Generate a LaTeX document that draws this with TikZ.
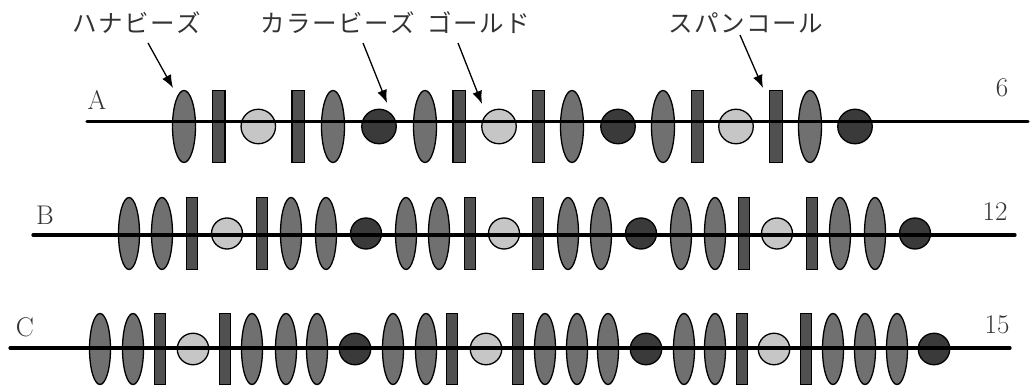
\documentclass[tikz,border=0pt]{standalone}
\usepackage{fontspec}
\newfontfamily\jp{Noto Sans CJK JP}
\usetikzlibrary{shapes.geometric,arrows.meta}
\definecolor{hanac}{HTML}{707070}
\definecolor{spanc}{HTML}{505050}
\definecolor{goldc}{HTML}{C6C6C6}
\definecolor{colc}{HTML}{3A3A3A}
\definecolor{txtc}{HTML}{333333}
\def\ew{23pt}\def\rw{12pt}\def\cw{34pt}\def\bh{72pt}
\newcommand\ks{\kern1.5pt}
\tikzset{
  bead/.style={draw=black, line width=1.3pt, inner sep=0pt, outer sep=0pt},
  hana/.style={bead, ellipse, fill=hanac, minimum width=\ew, minimum height=\bh},
  spang/.style={bead, rectangle, fill=spanc, minimum width=\rw, minimum height=\bh},
  gold/.style={bead, circle, fill=goldc, minimum size=\cw},
  colb/.style={bead, circle, fill=colc, minimum size=\cw},
  wire/.style={line width=3.2pt, line cap=round},
  ptr/.style={line width=1.3pt, -{Latex[length=13pt,width=10pt]}},
  jplbl/.style={inner sep=0pt, text=txtc, font=\fontsize{24.5}{28}\selectfont\jp},
  rowlbl/.style={inner sep=0pt, text=txtc, font=\fontsize{27}{32}\selectfont},
}
\begin{document}
\begin{tikzpicture}[x=1pt,y=-1pt]
\useasboundingbox (0,0) rectangle (1030,387);
% Row A
\def\ew{23pt}\def\rw{12.5pt}\def\cw{34.5pt}\def\bh{72pt}
\foreach [count=\i] \s/\x in {hana/184, spang/218.7, gold/258.3, spang/298.3, hana/333, colb/379,
  hana/425, spang/459.3, gold/499, spang/538.5, hana/572, colb/618,
  hana/663, spang/697.5, gold/736, spang/776, hana/810, colb/855}
  \node[\s] (a\i) at (\x,126.5) {};
\coordinate (aL) at (87,121.7); \coordinate (aR) at (1028,121.7);
\draw[wire] (aL) -- (aR);
\node[rowlbl] (la) at (97,100) {A};
\node[rowlbl] (na) at (1002,88) {6};
% Row B
\def\ew{21pt}\def\rw{10.5pt}\def\cw{31pt}\def\bh{72pt}
\foreach [count=\i] \s/\x in {hana/129, hana/162, spang/192, gold/227, spang/262, hana/291, hana/326, colb/366,
  hana/406, hana/439, spang/470, gold/504, spang/538, hana/568, hana/601, colb/641,
  hana/681, hana/715, spang/744, gold/777, spang/812, hana/840, hana/875, colb/915}
  \node[\s] (b\i) at (\x,233.5) {};
\coordinate (bL) at (33,235); \coordinate (bR) at (1015,235);
\draw[wire] (bL) -- (bR);
\node[rowlbl] (lb) at (45,215) {B};
\node[rowlbl] (nb) at (995,212) {12};
% Row C
\def\ew{21pt}\def\rw{10.5pt}\def\cw{31.5pt}\def\bh{71pt}
\foreach [count=\i] \s/\x in {hana/100, hana/133, spang/160, gold/193, spang/225, hana/252, hana/286, hana/317, colb/355,
  hana/393, hana/426, spang/452, gold/486, spang/518, hana/545, hana/577, hana/608, colb/646,
  hana/684, hana/715, spang/742, gold/774, spang/806, hana/833, hana/865, hana/897, colb/934}
  \node[\s] (c\i) at (\x,349) {};
\coordinate (cL) at (10,348); \coordinate (cR) at (1010,348);
\draw[wire] (cL) -- (cR);
\node[rowlbl] (lc) at (25,327) {C};
\node[rowlbl] (nc) at (997,325) {15};
% Labels and pointers
\node[jplbl] (t1) at (137,23) {ハ\ks ナ\ks ビ\ks ー\ks ズ};
\node[jplbl] (t2) at (338,23) {カ\ks ラ\ks ー\ks ビ\ks ー\ks ズ};
\node[jplbl] (t3) at (479,23) {ゴ\ks ー\ks ル\ks ド};
\node[jplbl] (t4) at (746,23) {ス\ks パ\ks ン\ks コ\ks ー\ks ル};
\coordinate (s1) at (148,43); \coordinate (e1) at (173,88);
\coordinate (s2) at (363,43); \coordinate (e2) at (387,103);
\coordinate (s3) at (458,43); \coordinate (e3) at (482,104);
\coordinate (s4) at (740,35); \coordinate (e4) at (763,88);
\draw[ptr] (s1) -- (e1);
\draw[ptr] (s2) -- (e2);
\draw[ptr] (s3) -- (e3);
\draw[ptr] (s4) -- (e4);
\end{tikzpicture}
\end{document}
